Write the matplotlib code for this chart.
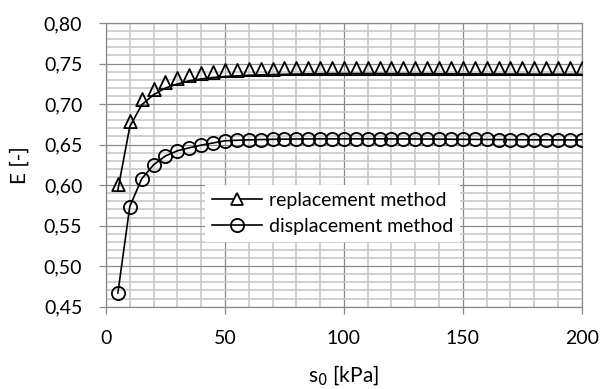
import matplotlib
matplotlib.use('Agg')
import matplotlib.pyplot as plt
from matplotlib.ticker import MultipleLocator, FuncFormatter
from matplotlib.path import Path
from matplotlib.lines import Line2D

plt.rcParams['font.family'] = ['Lato', 'DejaVu Sans']

# data
s0 = list(range(5, 205, 5))
replacement = [0.594, 0.672, 0.699, 0.7115, 0.7197, 0.7247, 0.7287, 0.731, 0.7327, 0.734,
               0.7348, 0.7355, 0.736, 0.7364, 0.7367, 0.737, 0.7372, 0.7374, 0.7375, 0.7376,
               0.7376, 0.7376, 0.7376, 0.7375, 0.7375, 0.7374, 0.7374, 0.7373, 0.7373, 0.7372,
               0.7372, 0.7371, 0.7371, 0.737, 0.737, 0.7369, 0.7369, 0.7368, 0.7368, 0.7368]
displacement = [0.467, 0.5735, 0.6077, 0.625, 0.636, 0.6423, 0.646, 0.6493, 0.652, 0.6547,
                0.6553, 0.6558, 0.6562, 0.6565, 0.6567, 0.6569, 0.657, 0.6571, 0.6571, 0.6571,
                0.6571, 0.6571, 0.6571, 0.657, 0.657, 0.6569, 0.6568, 0.6567, 0.6566, 0.6565,
                0.6564, 0.6563, 0.6562, 0.6561, 0.656, 0.6559, 0.6559, 0.6558, 0.6558, 0.6558]
labels = ['replacement method', 'displacement method']

fig = plt.figure(figsize=(6.08, 3.89), dpi=100)
ax = fig.add_axes([0.1743, 0.2116, 0.7826, 0.7293])

# triangle that sits on the data point (as in the original chart)
tri = Path([(0, 1), (-0.5, -0.05), (0.5, -0.05), (0, 1)],
           [Path.MOVETO, Path.LINETO, Path.LINETO, Path.CLOSEPOLY])

ax.plot(s0, replacement, color='black', linewidth=1.2, zorder=3)
ax.plot(s0, replacement, linestyle='none', marker=tri, markersize=18,
        markerfacecolor='none', markeredgecolor='black', markeredgewidth=1.3, zorder=4)
ax.plot(s0, displacement, color='black', linewidth=1.2, marker='o', markersize=9.5,
        markerfacecolor='none', markeredgecolor='black', markeredgewidth=1.3, zorder=3)

ax.set_xlim(0, 200)
ax.set_ylim(0.45, 0.80)
ax.xaxis.set_major_locator(MultipleLocator(50))
ax.xaxis.set_minor_locator(MultipleLocator(10))
ax.yaxis.set_major_locator(MultipleLocator(0.05))
ax.yaxis.set_minor_locator(MultipleLocator(0.01))
ax.yaxis.set_major_formatter(FuncFormatter(lambda v, p: f'{v:.2f}'.replace('.', ',')))

ax.grid(which='minor', color='#c8c8c8', linewidth=1.2, zorder=0)
ax.grid(which='major', color='#8a8a8a', linewidth=0.9, zorder=1)
ax.set_axisbelow(True)
for sp in ['left', 'bottom', 'top', 'right']:
    ax.spines[sp].set_color('#8a8a8a')
    ax.spines[sp].set_linewidth(0.9)

ax.tick_params(which='major', direction='out', length=5, width=0.9, color='#8a8a8a',
               labelsize=14, pad=12)
ax.tick_params(which='minor', length=0)

ax.set_xlabel('s$_0$ [kPa]', fontsize=15, labelpad=12)
ax.set_ylabel('E [-]', fontsize=15, labelpad=10)

handles = [Line2D([], [], color='black', linewidth=1.2, marker='^', markersize=9,
                  markerfacecolor='white', markeredgecolor='black', markeredgewidth=1.3),
           Line2D([], [], color='black', linewidth=1.2, marker='o', markersize=9.5,
                  markerfacecolor='none', markeredgecolor='black', markeredgewidth=1.3)]
leg = ax.legend(handles, labels, loc='upper left', bbox_to_anchor=(0.208, 0.43),
                fontsize=14, frameon=True, fancybox=False, handlelength=2.6,
                handletextpad=0.35, borderpad=0.35, labelspacing=0.5, borderaxespad=0)
leg.get_frame().set_facecolor('white')
leg.get_frame().set_edgecolor('none')
leg.get_frame().set_alpha(1)
leg.set_zorder(5)

fig.savefig('out.png', dpi=100)
